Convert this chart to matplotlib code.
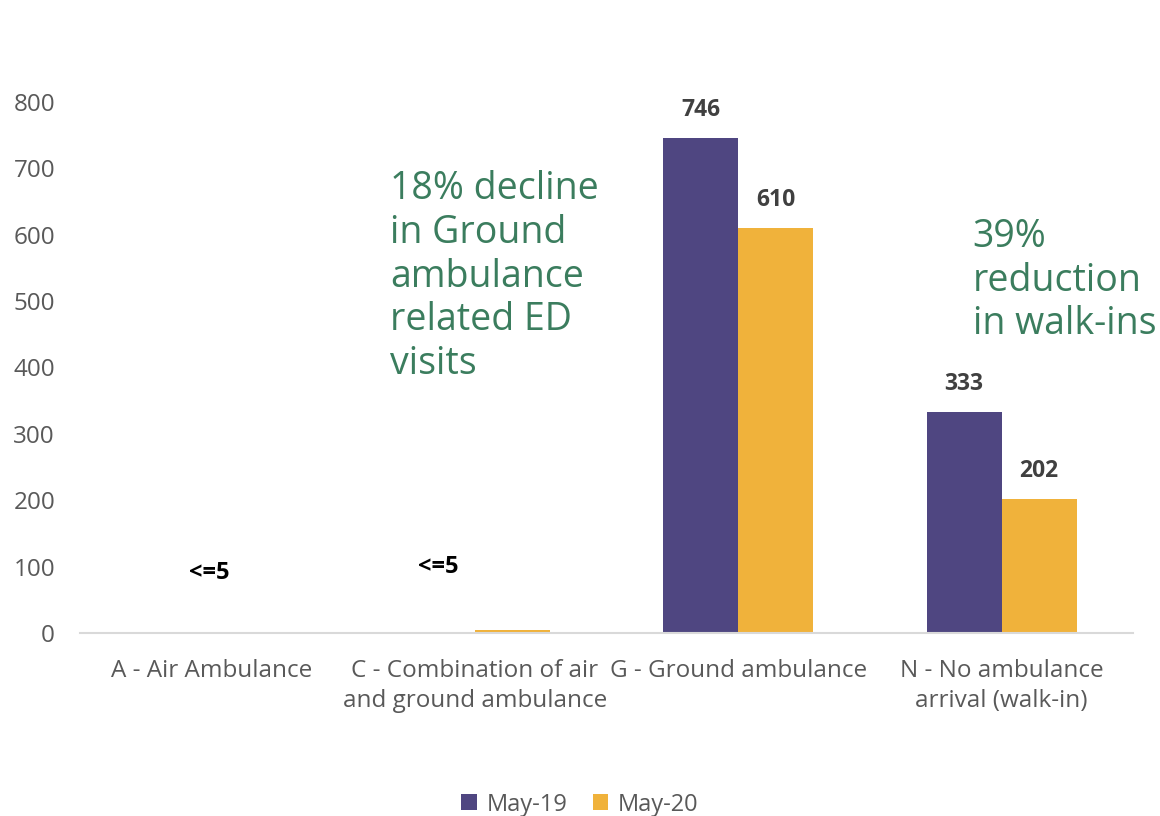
import numpy as np
import matplotlib.pyplot as plt

plt.rcParams['font.family'] = ['Open Sans', 'DejaVu Sans']

# ED visits by arrival mode
categories = ["A - Air Ambulance",
              "C - Combination of air\nand ground ambulance",
              "G - Ground ambulance",
              "N - No ambulance\narrival (walk-in)"]
may19 = [0, 0, 746, 333]
may20 = [0, 5, 610, 202]
value_labels_19 = ["", "", "746", "333"]
value_labels_20 = ["", "", "610", "202"]

purple = "#4f4681"
orange = "#f0b23b"
green = "#3b7d5e"

fig = plt.figure(figsize=(11.6, 8.16), dpi=100)
ax = fig.add_axes([0.069, 0.2243, 0.908, 0.6507])

x = np.arange(len(categories))
w = 0.285
b1 = ax.bar(x - w / 2, may19, w, color=purple, label="May-19")
b2 = ax.bar(x + w / 2, may20, w, color=orange, label="May-20")

for rect, lab in zip(b1, value_labels_19):
    if lab:
        ax.text(rect.get_x() + rect.get_width() / 2, rect.get_height() + 42, lab,
                ha="center", va="center", fontsize=16.5, fontweight="bold", color="#404040")
for rect, lab in zip(b2, value_labels_20):
    if lab:
        ax.text(rect.get_x() + rect.get_width() / 2, rect.get_height() + 42, lab,
                ha="center", va="center", fontsize=16.5, fontweight="bold", color="#404040")

# small counts suppressed
ax.text(-0.01, 90, "<=5", ha="center", va="center", fontsize=17, fontweight="bold", color="black")
ax.text(0.86, 100, "<=5", ha="center", va="center", fontsize=17, fontweight="bold", color="black")

ax.text(0.678, 537, "18% decline\nin Ground\nambulance\nrelated ED\nvisits", ha="left", va="center",
        fontsize=27, color=green, linespacing=1.2)
ax.text(2.89, 531, "39%\nreduction\nin walk-ins", ha="left", va="center",
        fontsize=27, color=green, linespacing=1.2)

ax.set_xlim(-0.5, 3.5)
ax.set_ylim(0, 800)
ax.set_yticks(range(0, 801, 100))
ax.set_xticks(x)
ax.set_xticklabels(categories, fontsize=17.5, color="#595959", linespacing=1.32)
ax.tick_params(axis="y", labelsize=17.5, labelcolor="#595959", length=0, pad=18)
ax.tick_params(axis="x", length=0, pad=19)
for s in ["top", "right", "left"]:
    ax.spines[s].set_visible(False)
ax.spines["bottom"].set_color("#d9d9d9")
ax.spines["bottom"].set_linewidth(1.5)

leg = fig.legend(handles=[b1, b2], loc="center", bbox_to_anchor=(0.5, 0.014), ncol=2,
                 frameon=False, fontsize=17, handlelength=0.65, handleheight=0.65,
                 handletextpad=0.4, columnspacing=1.1)
for t in leg.get_texts():
    t.set_color("#595959")

fig.savefig("out.png", dpi=100)
